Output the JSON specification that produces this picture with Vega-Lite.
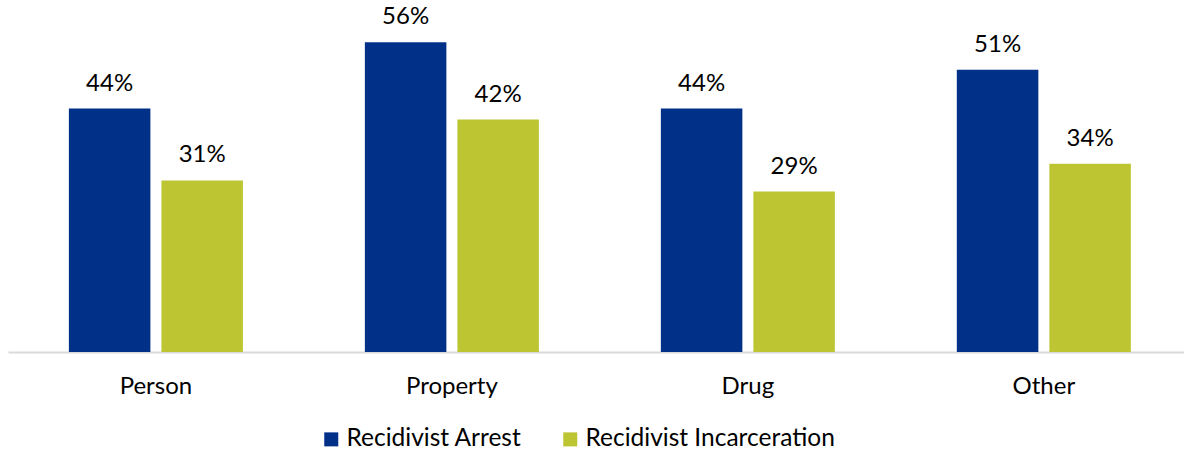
{
  "$schema": "https://vega.github.io/schema/vega-lite/v6.json",
  "width": 1176,
  "height": 332,
  "padding": {"left": 8, "right": 0, "top": 20, "bottom": 101},
  "autosize": {"type": "none"},
  "background": "white",
  "config": {
    "view": {"stroke": null},
    "font": "Lato",
    "text": {"font": "Lato"}
  },
  "data": {
    "values": [
      {"offense": "Person", "measure": "Recidivist Arrest", "rate": 0.44},
      {"offense": "Person", "measure": "Recidivist Incarceration", "rate": 0.31},
      {"offense": "Property", "measure": "Recidivist Arrest", "rate": 0.56},
      {"offense": "Property", "measure": "Recidivist Incarceration", "rate": 0.42},
      {"offense": "Drug", "measure": "Recidivist Arrest", "rate": 0.44},
      {"offense": "Drug", "measure": "Recidivist Incarceration", "rate": 0.29},
      {"offense": "Other", "measure": "Recidivist Arrest", "rate": 0.51},
      {"offense": "Other", "measure": "Recidivist Incarceration", "rate": 0.34}
    ]
  },
  "encoding": {
    "x": {
      "field": "offense",
      "type": "nominal",
      "sort": ["Person", "Property", "Drug", "Other"],
      "scale": {"paddingInner": 0.412, "paddingOuter": 0.1926, "align": 0.534},
      "axis": {
        "title": null,
        "labelAngle": 0,
        "ticks": false,
        "domainColor": "#d9d9d9",
        "domainWidth": 2,
        "labelFontSize": 24,
        "labelColor": "#000000",
        "labelFont": "Lato",
        "labelPadding": 22
      }
    },
    "xOffset": {
      "field": "measure",
      "type": "nominal",
      "scale": {"paddingInner": 0.119, "paddingOuter": 0}
    },
    "y": {
      "field": "rate",
      "type": "quantitative",
      "scale": {"domain": [0, 0.6], "nice": false},
      "axis": null
    }
  },
  "layer": [
    {
      "mark": {"type": "bar"},
      "encoding": {
        "color": {
          "field": "measure",
          "type": "nominal",
          "scale": {
            "domain": ["Recidivist Arrest", "Recidivist Incarceration"],
            "range": ["#003087", "#BDC632"]
          },
          "legend": {
            "title": null,
            "orient": "none",
            "legendX": 311,
            "legendY": 407,
            "direction": "horizontal",
            "symbolType": "square",
            "symbolSize": 196,
            "symbolStrokeWidth": 0,
            "labelFontSize": 24.5,
            "labelFont": "Lato",
            "labelColor": "#000000",
            "labelLimit": 400,
            "columnPadding": 36,
            "labelOffset": 3
          }
        }
      }
    },
    {
      "mark": {"type": "text", "baseline": "alphabetic", "dy": -18, "fontSize": 24, "font": "Lato", "color": "#000000"},
      "encoding": {
        "text": {"field": "rate", "type": "quantitative", "format": ".0%"}
      }
    }
  ]
}
